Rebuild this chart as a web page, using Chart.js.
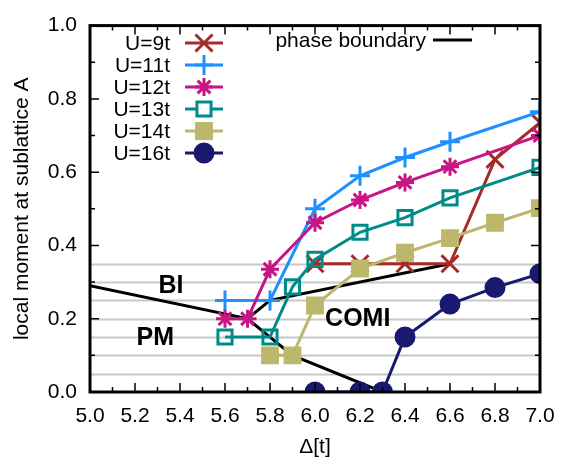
<!DOCTYPE html>
<html>
<head>
<meta charset="utf-8">
<script src="https://cdn.jsdelivr.net/npm/chart.js@4/dist/chart.umd.min.js"></script>
<style>
html,body{margin:0;padding:0;background:#fff;}
#wrap{width:571px;height:464px;position:relative;}
</style>
</head>
<body>
<div id="wrap"><canvas id="c" width="571" height="464"></canvas></div>
<script>
// ---- data ----
const seriesLabels = ["U=9t","U=11t","U=12t","U=13t","U=14t","U=16t"];
const u9x  = [6.0, 6.2, 6.4, 6.6, 6.8, 7.0];
const u9y  = [0.35, 0.35, 0.35, 0.35, 0.635, 0.735];
const u11x = [5.6, 5.8, 6.0, 6.2, 6.4, 6.6, 7.0];
const u11y = [0.25, 0.25, 0.50, 0.59, 0.64, 0.683, 0.765];
const u12x = [5.6, 5.7, 5.8, 6.0, 6.2, 6.4, 6.6, 7.0];
const u12y = [0.20, 0.20, 0.335, 0.462, 0.524, 0.572, 0.615, 0.70];
const u13x = [5.6, 5.8, 5.9, 6.0, 6.2, 6.4, 6.6, 7.0];
const u13y = [0.15, 0.15, 0.287, 0.362, 0.436, 0.476, 0.53, 0.613];
const u14x = [5.8, 5.9, 6.0, 6.2, 6.4, 6.6, 6.8, 7.0];
const u14y = [0.10, 0.10, 0.236, 0.337, 0.38, 0.42, 0.462, 0.502];
const u16x = [6.0, 6.2, 6.3, 6.4, 6.6, 6.8, 7.0];
const u16y = [0.0, 0.0, 0.0, 0.15, 0.24, 0.285, 0.323];
// phase boundary: upper branch then lower branch (separated by a gap)
const pbUpperX = [5.0, 5.7, 5.8, 6.6];
const pbUpperY = [0.29, 0.20, 0.25, 0.35];
const pbLowerX = [5.7, 5.8, 5.9, 6.3];
const pbLowerY = [0.20, 0.15, 0.10, 0.0];
const phaseLabels = ["BI","PM","COMI"];
const phaseLabelX = [5.36, 5.29, 6.19];
const phaseLabelY = [0.29, 0.147, 0.20];
const xTicks = [5.0, 5.2, 5.4, 5.6, 5.8, 6.0, 6.2, 6.4, 6.6, 6.8, 7.0];
const yTicks = [0.0, 0.2, 0.4, 0.6, 0.8, 1.0];
const grayGridY = [0.05, 0.10, 0.15, 0.20, 0.25, 0.30, 0.35];

const colors = ["#a52a2a","#1e90ff","#c71585","#008b8b","#bdb76b","#191970"];
const styles = ["crossRot","cross","star","rect","rect","circle"];
const radii = [12, 10, 9, 10, 10.5, 9];
const filled = [false,false,false,false,true,true];

function pts(xs, ys){ return xs.map((x,i)=>({x:x, y:ys[i]})); }
const xs = [u9x,u11x,u12x,u13x,u14x,u16x];
const ys = [u9y,u11y,u12y,u13y,u14y,u16y];

const FONT = "'Liberation Sans', Arial, Helvetica, sans-serif";

const datasets = seriesLabels.map((lab,i)=>({
  label: lab,
  data: pts(xs[i], ys[i]),
  showLine: true,
  borderColor: colors[i],
  backgroundColor: filled[i] ? colors[i] : 'rgba(0,0,0,0)',
  borderWidth: 3,
  pointStyle: styles[i],
  pointRadius: radii[i],
  pointHoverRadius: radii[i],
  pointBorderWidth: 3,
  pointBorderColor: colors[i],
  pointBackgroundColor: filled[i] ? colors[i] : 'rgba(255,255,255,0)',
  order: 6 - i
}));
const pbData = pts(pbUpperX, pbUpperY).concat([{x: 6.6, y: null}]).concat(pts(pbLowerX, pbLowerY));
datasets.push({
  label: "phase boundary",
  data: pbData,
  showLine: true,
  spanGaps: false,
  borderColor: "#000",
  borderWidth: 3,
  pointRadius: 0,
  order: 20
});

function drawMarker(ctx, style, x, y, r, color, fill){
  ctx.save();
  ctx.strokeStyle = color; ctx.fillStyle = color; ctx.lineWidth = 3;
  ctx.beginPath();
  if (style === 'cross' || style === 'star'){
    ctx.moveTo(x - r, y); ctx.lineTo(x + r, y);
    ctx.moveTo(x, y - r); ctx.lineTo(x, y + r);
  }
  if (style === 'crossRot' || style === 'star'){
    const o = r * Math.SQRT1_2;
    ctx.moveTo(x - o, y - o); ctx.lineTo(x + o, y + o);
    ctx.moveTo(x - o, y + o); ctx.lineTo(x + o, y - o);
  }
  if (style === 'rect'){
    const s = r * Math.SQRT1_2;
    ctx.rect(x - s, y - s, 2*s, 2*s);
    if (fill) ctx.fill(); else { ctx.fillStyle = '#fff'; ctx.fill(); }
  }
  if (style === 'circle'){
    ctx.arc(x, y, r, 0, Math.PI*2);
    ctx.fill();
  }
  ctx.stroke();
  ctx.restore();
}

const framePlugin = {
  id: 'frame',
  beforeDatasetsDraw(chart){
    const {ctx, chartArea: a, scales: {x, y}} = chart;
    ctx.save();
    ctx.strokeStyle = '#c8c8c8'; ctx.lineWidth = 2;
    grayGridY.forEach(v=>{
      const py = Math.round(y.getPixelForValue(v)) + 0.5;
      ctx.beginPath(); ctx.moveTo(a.left, py); ctx.lineTo(a.right, py); ctx.stroke();
    });
    ctx.restore();
  },
  afterDatasetsDraw(chart){
    const {ctx, chartArea: a, scales: {x, y}} = chart;
    ctx.save();
    // ticks inward
    ctx.strokeStyle = '#000'; ctx.lineWidth = 1.5;
    for (let k = 0; k <= 20; k++){
      const v = 5.0 + k * 0.1;
      const len = (k % 2 === 0) ? 9 : 5;
      const px = x.getPixelForValue(v);
      ctx.beginPath();
      ctx.moveTo(px, a.bottom); ctx.lineTo(px, a.bottom - len);
      ctx.moveTo(px, a.top); ctx.lineTo(px, a.top + len);
      ctx.stroke();
    }
    for (let k = 0; k <= 10; k++){
      const v = k * 0.1;
      const len = (k % 2 === 0) ? 9 : 5;
      const py = y.getPixelForValue(v);
      ctx.beginPath();
      ctx.moveTo(a.left, py); ctx.lineTo(a.left + len, py);
      ctx.moveTo(a.right, py); ctx.lineTo(a.right - len, py);
      ctx.stroke();
    }
    // frame
    ctx.lineWidth = 3;
    ctx.strokeRect(a.left, a.top, a.right - a.left, a.bottom - a.top);
    // phase labels
    ctx.fillStyle = '#000';
    ctx.font = 'bold 25px ' + FONT;
    ctx.textAlign = 'center'; ctx.textBaseline = 'middle';
    phaseLabels.forEach((t,i)=>{
      ctx.fillText(t, x.getPixelForValue(phaseLabelX[i]), y.getPixelForValue(phaseLabelY[i]));
    });
    // legend
    ctx.font = '21px ' + FONT;
    ctx.textAlign = 'right';
    seriesLabels.forEach((t,i)=>{
      const cy = 43 + 22 * i;
      ctx.fillStyle = '#000';
      ctx.fillText(t, 170, cy + 1);
      ctx.strokeStyle = colors[i]; ctx.lineWidth = 3;
      ctx.beginPath(); ctx.moveTo(185, cy); ctx.lineTo(223, cy); ctx.stroke();
      drawMarker(ctx, styles[i], 204, cy, radii[i], colors[i], filled[i]);
    });
    ctx.fillStyle = '#000';
    ctx.fillText("phase boundary", 426, 41);
    ctx.strokeStyle = '#000'; ctx.lineWidth = 3;
    ctx.beginPath(); ctx.moveTo(433, 40); ctx.lineTo(472, 40); ctx.stroke();
    ctx.restore();
  }
};

new Chart(document.getElementById('c'), {
  type: 'scatter',
  data: { datasets },
  options: {
    responsive: false,
    animation: false,
    layout: { padding: { top: 16, right: 31, left: 0, bottom: 0 } },
    plugins: { legend: { display: false }, tooltip: { enabled: false } },
    scales: {
      x: {
        type: 'linear', min: 5.0, max: 7.0,
        afterBuildTicks(s){ s.ticks = xTicks.map(v=>({value:v})); },
        afterFit(s){ s.height = 72; },
        grid: { display: false, drawTicks: false },
        border: { display: false },
        ticks: { color: '#000', font: { size: 21, family: FONT }, padding: 12, maxRotation: 0,
                 callback: v => Number(v).toFixed(1) },
        title: { display: true, text: 'Δ[t]', color: '#000', font: { size: 21, family: FONT }, padding: { top: 0, bottom: 4 } }
      },
      y: {
        type: 'linear', min: 0, max: 1.0,
        afterBuildTicks(s){ s.ticks = yTicks.map(v=>({value:v})); },
        afterFit(s){ s.width = 90; },
        grid: { display: false, drawTicks: false },
        border: { display: false },
        ticks: { color: '#000', font: { size: 21, family: FONT }, padding: 13,
                 callback: v => Number(v).toFixed(1) },
        title: { display: true, text: 'local moment at sublattice A', color: '#000', font: { size: 21, family: FONT }, padding: { top: 10, bottom: 0 } }
      }
    }
  },
  plugins: [framePlugin]
});
</script>
</body>
</html>
